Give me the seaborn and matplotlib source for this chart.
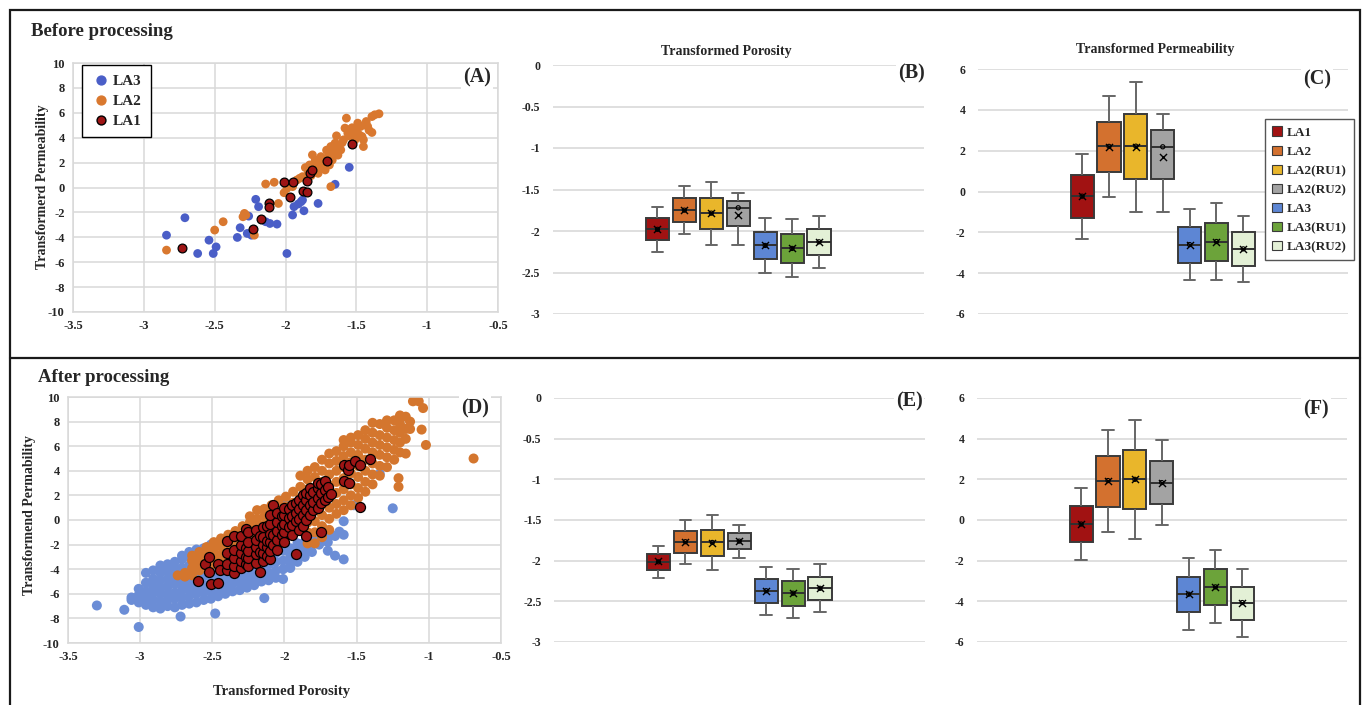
import numpy as np
import pandas as pd
import matplotlib
matplotlib.use("Agg")
import matplotlib.pyplot as plt
import seaborn as sns
from matplotlib.lines import Line2D
from matplotlib.patches import Patch, Rectangle
from matplotlib.ticker import FuncFormatter, MultipleLocator

# ---- box plot data -------------------------------------------------------
groups = ["LA1", "LA2", "LA2(RU1)", "LA2(RU2)", "LA3", "LA3(RU1)", "LA3(RU2)"]
box_colors = ["#A11212", "#D3712F", "#E9B62B", "#A3A3A3", "#5D86D4", "#6CA33A", "#E3F0D6"]

# whisker low, Q1, median, Q3, whisker high, mean
por_before = [
    (-2.25, -2.11, -1.98, -1.845, -1.705, -1.98),
    (-2.04, -1.893, -1.749, -1.608, -1.456, -1.75),
    (-2.17, -1.978, -1.785, -1.60, -1.404, -1.785),
    (-2.17, -1.94, -1.72, -1.633, -1.544, -1.81),
    (-2.503, -2.34, -2.174, -2.01, -1.845, -2.174),
    (-2.555, -2.383, -2.21, -2.034, -1.857, -2.21),
    (-2.44, -2.286, -2.13, -1.98, -1.825, -2.13),
]
perm_before = [
    (-2.32, -1.29, -0.23, 0.80, 1.85, -0.21),
    (-0.26, 0.96, 2.21, 3.42, 4.66, 2.20),
    (-0.98, 0.62, 2.22, 3.79, 5.38, 2.20),
    (-0.98, 0.60, 2.19, 3.00, 3.79, 1.67),
    (-4.33, -3.50, -2.60, -1.75, -0.87, -2.60),
    (-4.33, -3.38, -2.45, -1.52, -0.57, -2.45),
    (-4.43, -3.63, -2.81, -1.99, -1.18, -2.80),
]
por_after = [
    (-2.21, -2.11, -2.014, -1.92, -1.82, -2.01),
    (-2.04, -1.907, -1.767, -1.64, -1.496, -1.77),
    (-2.11, -1.944, -1.776, -1.62, -1.443, -1.78),
    (-1.97, -1.86, -1.76, -1.656, -1.558, -1.76),
    (-2.67, -2.52, -2.37, -2.224, -2.076, -2.37),
    (-2.70, -2.556, -2.40, -2.25, -2.10, -2.40),
    (-2.63, -2.487, -2.34, -2.195, -2.04, -2.34),
]
perm_after = [
    (-1.97, -1.10, -0.20, 0.69, 1.56, -0.20),
    (-0.59, 0.66, 1.94, 3.16, 4.44, 1.92),
    (-0.92, 0.53, 2.00, 3.44, 4.90, 2.00),
    (-0.23, 0.81, 1.84, 2.89, 3.93, 1.84),
    (-5.39, -4.52, -3.65, -2.79, -1.89, -3.65),
    (-5.06, -4.18, -3.29, -2.42, -1.48, -3.29),
    (-5.74, -4.90, -4.06, -3.29, -2.42, -4.06),
]

# ---- scatter data, before processing (x = porosity, y = permeability) ----
la3_before = [
    (-2.84, -3.83), (-2.71, -2.43), (-2.62, -5.30), (-2.54, -4.23), (-2.51, -5.30),
    (-2.49, -4.77), (-2.34, -4.01), (-2.32, -3.23), (-2.27, -3.69), (-2.24, -3.83),
    (-2.26, -2.30), (-2.21, -0.95), (-2.19, -1.54), (-2.14, -2.75), (-2.11, -2.89),
    (-2.06, -2.94), (-1.99, -5.30), (-1.95, -2.21), (-1.94, -1.54), (-1.91, -1.33),
    (-1.89, -1.14), (-1.88, -1.01), (-1.87, -1.87), (-1.77, -1.28), (-1.65, 0.26),
    (-1.55, 1.62),
]
la2_before = [
    (-2.84, -5.03), (-2.50, -3.42), (-2.44, -2.75), (-2.30, -2.35), (-2.29, -2.08),
    (-2.28, -2.21), (-2.22, -3.83), (-2.14, 0.28), (-2.08, 0.42), (-2.05, -1.28),
    (-2.01, -0.42), (-1.99, -0.07), (-1.97, 0.20), (-1.95, 0.07), (-1.92, 0.60),
    (-1.90, 0.74), (-1.88, 0.87), (-1.84, 1.14), (-1.83, 1.81), (-1.81, 2.62),
    (-1.79, 2.21), (-1.78, 1.54), (-1.77, 1.14), (-1.76, 1.95), (-1.75, 2.48),
    (-1.74, 1.68), (-1.72, 1.41), (-1.70, 2.48), (-1.69, 1.81), (-1.68, 0.07),
    (-1.68, 3.29), (-1.66, 2.75), (-1.65, 3.56), (-1.64, 4.15), (-1.64, 3.15),
    (-1.62, 3.42), (-1.61, 3.02), (-1.59, 3.83), (-1.58, 4.77), (-1.57, 5.57),
    (-1.56, 4.36), (-1.55, 4.63), (-1.54, 4.09), (-1.52, 4.50), (-1.51, 3.83),
    (-1.50, 4.50), (-1.49, 5.17), (-1.48, 4.23), (-1.47, 4.90), (-1.45, 3.29),
    (-1.45, 3.83), (-1.43, 5.30), (-1.42, 4.90), (-1.39, 4.42), (-1.39, 5.70),
    (-1.37, 5.84), (-1.34, 5.92), (-1.67, 2.21), (-1.73, 2.10), (-1.80, 1.90),
    (-1.86, 1.60), (-1.82, 0.95), (-1.71, 3.00), (-1.63, 2.60), (-1.60, 3.60),
    (-1.53, 4.80), (-1.46, 4.10), (-1.41, 4.60),
]
la1_before = [
    (-2.73, -4.82), (-2.23, -3.37), (-2.17, -2.51), (-2.12, -1.28), (-2.12, -1.54),
    (-2.01, 0.47), (-1.95, 0.47), (-1.97, -0.79), (-1.88, -0.26), (-1.85, -0.39),
    (-1.85, 0.55), (-1.83, 1.14), (-1.81, 1.41), (-1.71, 2.13), (-1.53, 3.50),
]

# ---- scatter data, after processing: (porosity, [permeabilities]) ----
la3_after = [
    (-3.30, [-6.95]), (-3.11, [-7.3]), (-3.01, [-8.7]), (-2.72, [-7.85]), (-2.48, [-7.6]),
    (-2.14, [-6.35]),
    (-3.06, [-6.5, -6.3]),
    (-3.01, [-6.7, -6.1, -5.6]),
    (-2.96, [-6.9, -6.3, -5.8, -5.1, -4.3]),
    (-2.91, [-7.1, -6.5, -5.9, -5.4, -4.8, -4.1]),
    (-2.86, [-7.2, -6.6, -6.0, -5.5, -4.9, -4.3, -3.7]),
    (-2.81, [-7.0, -6.5, -6.0, -5.4, -4.8, -4.2, -3.6]),
    (-2.76, [-7.1, -6.4, -5.9, -5.2, -4.6, -4.0, -3.4]),
    (-2.71, [-6.9, -6.3, -5.7, -5.1, -4.5, -3.9, -3.2, -2.9]),
    (-2.66, [-6.8, -6.2, -5.6, -5.0, -4.4, -3.7, -3.0, -2.6]),
    (-2.61, [-6.7, -6.0, -5.4, -4.8, -4.2, -3.5, -2.4]),
    (-2.56, [-6.5, -5.9, -5.3, -4.6, -4.0, -3.2, -2.3]),
    (-2.51, [-6.4, -5.8, -5.2, -4.6, -3.9, -2.0]),
    (-2.46, [-6.2, -5.6, -5.0, -4.3, -3.7]),
    (-2.41, [-6.0, -5.4, -4.8, -4.2]),
    (-2.36, [-5.8, -5.2, -4.6, -4.0]),
    (-2.31, [-5.7, -5.1, -4.5, -3.9]),
    (-2.26, [-5.5, -4.9, -4.3, -3.6]),
    (-2.21, [-5.3, -4.7, -4.1, -3.4]),
    (-2.16, [-5.0, -4.4, -3.8, -3.1]),
    (-2.11, [-4.9, -4.3, -3.6, -2.9]),
    (-2.06, [-4.7, -4.1, -3.4, -2.7]),
    (-2.01, [-4.8, -4.0, -3.3, -2.5, 1.5]),
    (-1.96, [-3.9, -3.5, -2.9, -2.3]),
    (-1.91, [-3.4, -2.9, -2.5, -1.9]),
    (-1.86, [-3.0, -2.4, -1.8]),
    (-1.81, [-2.6, -2.0, -1.5]),
    (-1.76, [-2.0, -1.6]),
    (-1.70, [-2.5, -1.8, -1.45]),
    (-1.65, [-2.9, -1.3]),
    (-1.62, [-0.95]),
    (-1.59, [-3.2, -1.2, -0.1]),
    (-1.52, [1.2]), (-1.34, [3.75]), (-1.25, [0.95]),
]
la2_after = [
    (-2.74, [-4.5]),
    (-2.69, [-4.6, -4.3]),
    (-2.64, [-4.5, -3.9, -3.3, -2.9]),
    (-2.59, [-4.1, -3.5, -3.0, -2.6]),
    (-2.54, [-3.9, -3.3, -2.8, -2.2]),
    (-2.49, [-3.6, -3.0, -2.4, -1.8]),
    (-2.44, [-3.4, -2.8, -2.1, -1.5]),
    (-2.39, [-3.2, -2.6, -1.9, -1.2]),
    (-2.34, [-3.0, -2.3, -1.6, -0.9]),
    (-2.29, [-2.6, -2.0, -1.3, -0.5]),
    (-2.24, [-2.2, -1.6, -0.9, -0.2, 0.3]),
    (-2.19, [-2.0, -1.3, -0.6, 0.1, 0.8]),
    (-2.14, [-1.8, -1.1, -0.4, 0.3, 0.9]),
    (-2.09, [-1.6, -0.9, -0.2, 0.5, 1.2]),
    (-2.04, [-1.4, -0.7, 0.0, 0.8, 1.6]),
    (-1.99, [-1.2, -0.5, 0.3, 1.1, 1.9]),
    (-1.94, [-1.0, -0.2, 0.6, 1.4, 2.3]),
    (-1.89, [-0.7, 0.1, 0.9, 1.8, 2.7, 3.6]),
    (-1.84, [-1.9, -1.0, -0.2, 0.7, 1.6, 2.5, 3.3, 4.0]),
    (-1.79, [-1.9, -1.0, -0.1, 0.8, 1.7, 2.6, 3.5, 4.3]),
    (-1.74, [-1.4, -0.5, 0.4, 1.3, 2.2, 3.1, 4.0, 4.9]),
    (-1.69, [-0.8, 0.1, 1.0, 1.9, 2.8, 3.7, 4.6, 5.4]),
    (-1.64, [0.5, 1.3, 2.2, 3.1, 4.0, 4.8, 5.6]),
    (-1.59, [0.8, 1.6, 2.5, 3.4, 4.3, 5.2, 6.0, 6.5]),
    (-1.54, [1.2, 2.0, 2.9, 3.8, 4.7, 5.5, 6.3, 6.7]),
    (-1.49, [1.8, 2.6, 3.5, 4.4, 5.3, 6.1, 6.9]),
    (-1.44, [2.3, 3.1, 4.0, 4.9, 5.8, 6.6, 7.3]),
    (-1.39, [2.9, 3.7, 4.6, 5.5, 6.3, 7.1, 7.9]),
    (-1.34, [3.6, 4.4, 5.3, 6.1, 6.9, 7.8]),
    (-1.29, [4.3, 5.1, 5.9, 6.7, 7.5, 8.1]),
    (-1.24, [4.9, 5.7, 6.5, 7.3, 8.1]),
    (-1.20, [5.5, 6.3, 7.1, 7.8, 8.5]),
    (-1.16, [5.4, 6.6, 7.4, 8.4]),
    (-1.13, [7.4, 8.0]),
    (-1.11, [9.65]), (-1.07, [9.65]), (-1.04, [9.1]), (-1.05, [7.35]), (-1.02, [6.1]),
    (-1.21, [3.4, 2.7]), (-0.69, [5.0]),
]
la1_after = [
    (-2.60, [-4.95]), (-2.51, [-5.2]), (-2.46, [-5.1]),
    (-2.55, [-3.55]), (-2.52, [-3.0, -4.2]), (-2.46, [-3.55]), (-2.45, [-4.1]),
    (-2.40, [-4.1, -3.6, -2.7, -1.7]),
    (-2.35, [-4.3, -3.7, -3.1, -2.4, -1.3]),
    (-2.30, [-3.9, -3.3, -2.7, -2.0, -1.3]),
    (-2.27, [-3.6, -3.0, -2.3, -0.7]),
    (-2.25, [-3.7, -3.1, -2.5, -1.8, -1.0]),
    (-2.20, [-3.5, -2.8, -2.2, -1.6, -0.8]),
    (-2.17, [-4.2, -2.6, -1.3]),
    (-2.15, [-3.3, -2.7, -2.0, -1.4, -0.6]),
    (-2.12, [-2.9, -2.2, -1.7, -0.5]),
    (-2.10, [-3.2, -2.5, -1.8, -1.1, -0.3, 0.4]),
    (-2.08, [-2.0, -1.2, 1.2]),
    (-2.05, [-2.4, -1.6, -0.9, -0.2, 0.6]),
    (-2.02, [-1.2, -0.5, 0.3]),
    (-2.00, [-1.8, -1.0, -0.3, 0.4, 1.0]),
    (-1.97, [-0.6, 0.2, 0.9]),
    (-1.95, [-1.2, -0.4, 0.3, 1.2]),
    (-1.92, [-2.8, -0.1, 0.6, 1.4]),
    (-1.90, [-0.8, 0.1, 0.9, 1.6]),
    (-1.87, [-0.5, 0.4, 1.2, 2.0]),
    (-1.85, [-1.3, 0.0, 0.8, 1.6, 2.2]),
    (-1.82, [0.4, 1.2, 2.0, 2.6]),
    (-1.80, [0.8, 1.5, 2.3]),
    (-1.77, [1.0, 1.8, 2.6, 3.0]),
    (-1.75, [-1.0, 1.4, 2.2, 2.9]),
    (-1.72, [1.6, 2.4, 3.2]),
    (-1.70, [1.9, 2.7]),
    (-1.68, [2.1]),
    (-1.59, [4.5, 3.15]), (-1.56, [4.05]), (-1.55, [4.5, 3.0]), (-1.51, [4.8]),
    (-1.48, [4.5, 1.07]), (-1.41, [4.94]),
]

W, H = 1362, 705


def px(x, y):
    return x / W, 1 - y / H


def rect(l, t, r, b):
    return [l / W, 1 - b / H, (r - l) / W, (b - t) / H]


sns.set_theme(style="white")
plt.rcParams["font.family"] = ["Liberation Serif", "DejaVu Serif"]
plt.rcParams["font.weight"] = "bold"
plt.rcParams["axes.unicode_minus"] = False

fig = plt.figure(figsize=(W / 100, H / 100), dpi=100)
fmt = FuncFormatter(lambda v, p: f"{v:g}")


def to_df(cols):
    return pd.DataFrame([(x, y) for x, ys in cols for y in ys], columns=["x", "y"])


def scatter_panel(ax, layers, size):
    for df, color, edge in layers:
        sns.scatterplot(data=df, x="x", y="y", color=color, s=size,
                        edgecolor=edge, linewidth=0.9 if edge != "none" else 0,
                        ax=ax, legend=False)
    ax.set_xlim(-3.5, -0.5)
    ax.set_ylim(-10, 10)
    ax.xaxis.set_major_locator(MultipleLocator(0.5))
    ax.yaxis.set_major_locator(MultipleLocator(2))
    ax.xaxis.set_major_formatter(fmt)
    ax.yaxis.set_major_formatter(fmt)
    ax.grid(True, color="#d9d9d9", lw=1.1)
    ax.set_axisbelow(True)
    for s in ax.spines.values():
        s.set_color("#d9d9d9")
        s.set_linewidth(1.1)
    ax.tick_params(length=0, labelsize=9, pad=6)
    ax.set_xlabel("")
    ax.set_ylabel("")


def box_panel(ax, stats, ylim, step):
    vals = pd.DataFrame({"group": np.repeat(groups, 5),
                         "value": [v for row in stats for v in row[:5]]})
    sns.boxplot(data=vals, x="group", y="value", hue="group", order=groups,
                hue_order=groups, palette=box_colors, saturation=1, whis=(0, 100),
                width=0.86, linecolor="#3a3a3a", linewidth=1.4, showfliers=False,
                legend=False, whiskerprops=dict(color="#666666"),
                capprops=dict(color="#666666"), medianprops=dict(color="#303030"), ax=ax)
    pos = np.arange(len(groups))
    ax.scatter(pos, [r[5] for r in stats], marker="x", c="black", s=26,
               linewidths=1.0, zorder=5)
    ax.scatter(pos, [r[2] for r in stats], marker="o", facecolors="none",
               edgecolors="black", s=9, linewidths=0.8, zorder=5)
    ax.set_xlim(-3.88, 9.9)
    ax.set_ylim(*ylim)
    ax.yaxis.set_major_locator(MultipleLocator(step))
    ax.yaxis.set_major_formatter(fmt)
    ax.grid(axis="y", color="#d9d9d9", lw=1.2)
    ax.set_axisbelow(True)
    for s in ax.spines.values():
        s.set_visible(False)
    ax.set_xticks([])
    ax.set_xlabel("")
    ax.set_ylabel("")
    ax.tick_params(axis="y", length=0, labelsize=8.5, pad=9)


def panel_tag(ax, text, fx, fy):
    ax.text(fx, fy, text, transform=ax.transAxes, ha="center", va="center",
            fontsize=14.5, fontweight="bold", zorder=10,
            bbox=dict(facecolor="white", edgecolor="none", pad=1.5))


# ---- before processing ----
axA = fig.add_axes(rect(73, 63, 498, 312))
scatter_panel(axA, [(pd.DataFrame(la3_before, columns=["x", "y"]), "#4A5EC7", "none"),
                    (pd.DataFrame(la2_before, columns=["x", "y"]), "#D9782F", "none"),
                    (pd.DataFrame(la1_before, columns=["x", "y"]), "#9E1515", "black")], 40)
panel_tag(axA, "(A)", 0.95, 0.94)
handles = [Line2D([], [], ls="none", marker="o", ms=6.4, mfc="#4A5EC7", mec="#4A5EC7"),
           Line2D([], [], ls="none", marker="o", ms=6.4, mfc="#D9782F", mec="#D9782F"),
           Line2D([], [], ls="none", marker="o", ms=6.4, mfc="#9E1515", mec="black")]
legA = axA.legend(handles, ["LA3", "LA2", "LA1"], loc="upper left",
                  bbox_to_anchor=(0.021, 0.992), borderaxespad=0, fancybox=False,
                  edgecolor="black", framealpha=1, prop=dict(size=11, weight="bold"),
                  handlelength=1.3, handletextpad=0.1, labelspacing=0.42, borderpad=0.6)
legA.get_frame().set_linewidth(1.0)

axB = fig.add_axes(rect(553, 65, 924, 314))
box_panel(axB, por_before, (-3, 0), 0.5)
panel_tag(axB, "(B)", 0.965, 0.964)

axC = fig.add_axes(rect(978, 69, 1348, 314))
box_panel(axC, perm_before, (-6, 6), 2)
panel_tag(axC, "(C)", 0.916, 0.958)
box_handles = [Patch(facecolor=c, edgecolor="#3a3a3a", lw=0.8) for c in box_colors]
legC = axC.legend(box_handles, groups, loc="upper left", bbox_to_anchor=(0.776, 0.795),
                  borderaxespad=0, fancybox=False, edgecolor="#555555", framealpha=1,
                  prop=dict(size=9.5, weight="bold"), handlelength=0.75, handleheight=0.75,
                  handletextpad=0.35, labelspacing=0.5, borderpad=0.55)
legC.get_frame().set_linewidth(1.0)

# ---- after processing ----
axD = fig.add_axes(rect(68, 397, 501, 643))
scatter_panel(axD, [(to_df(la3_after), "#6B8DD6", "none"),
                    (to_df(la2_after), "#D4762E", "none"),
                    (to_df(la1_after), "#9E1515", "black")], 52)
panel_tag(axD, "(D)", 0.94, 0.955)

axE = fig.add_axes(rect(554, 398, 925, 642))
box_panel(axE, por_after, (-3, 0), 0.5)
panel_tag(axE, "(E)", 0.957, 0.984)

axF = fig.add_axes(rect(977, 398, 1347, 642))
box_panel(axF, perm_after, (-6, 6), 2)
panel_tag(axF, "(F)", 0.916, 0.951)

# ---- figure texts ----
fig.text(*px(31, 31), "Before processing", fontsize=13.5, fontweight="bold", va="center")
fig.text(*px(38, 377), "After processing", fontsize=13.5, fontweight="bold", va="center")
fig.text(*px(726, 52), "Transformed Porosity", fontsize=10, fontweight="bold",
         ha="center", va="center")
fig.text(*px(1155, 49), "Transformed Permeability", fontsize=10, fontweight="bold",
         ha="center", va="center")
fig.text(*px(43, 187), "Transformerd Permeability", fontsize=10, fontweight="bold",
         rotation=90, ha="center", va="center")
fig.text(*px(30, 515), "Transformend Permability", fontsize=10, fontweight="bold",
         rotation=90, ha="center", va="center")
fig.text(*px(282, 691), "Transformed Porosity", fontsize=10.5, fontweight="bold",
         ha="center", va="center")

# outer frame and divider
fig.add_artist(Rectangle(px(9.5, 730), (1360 - 9.5) / W, (730 - 10) / H,
                         transform=fig.transFigure, fill=False, lw=1.6, ec="#1a1a1a"))
fig.add_artist(Line2D([9.5 / W, 1360 / W], [1 - 358 / H] * 2, transform=fig.transFigure,
                      lw=1.6, color="#1a1a1a"))

fig.savefig("out.png", dpi=100, facecolor="white")
